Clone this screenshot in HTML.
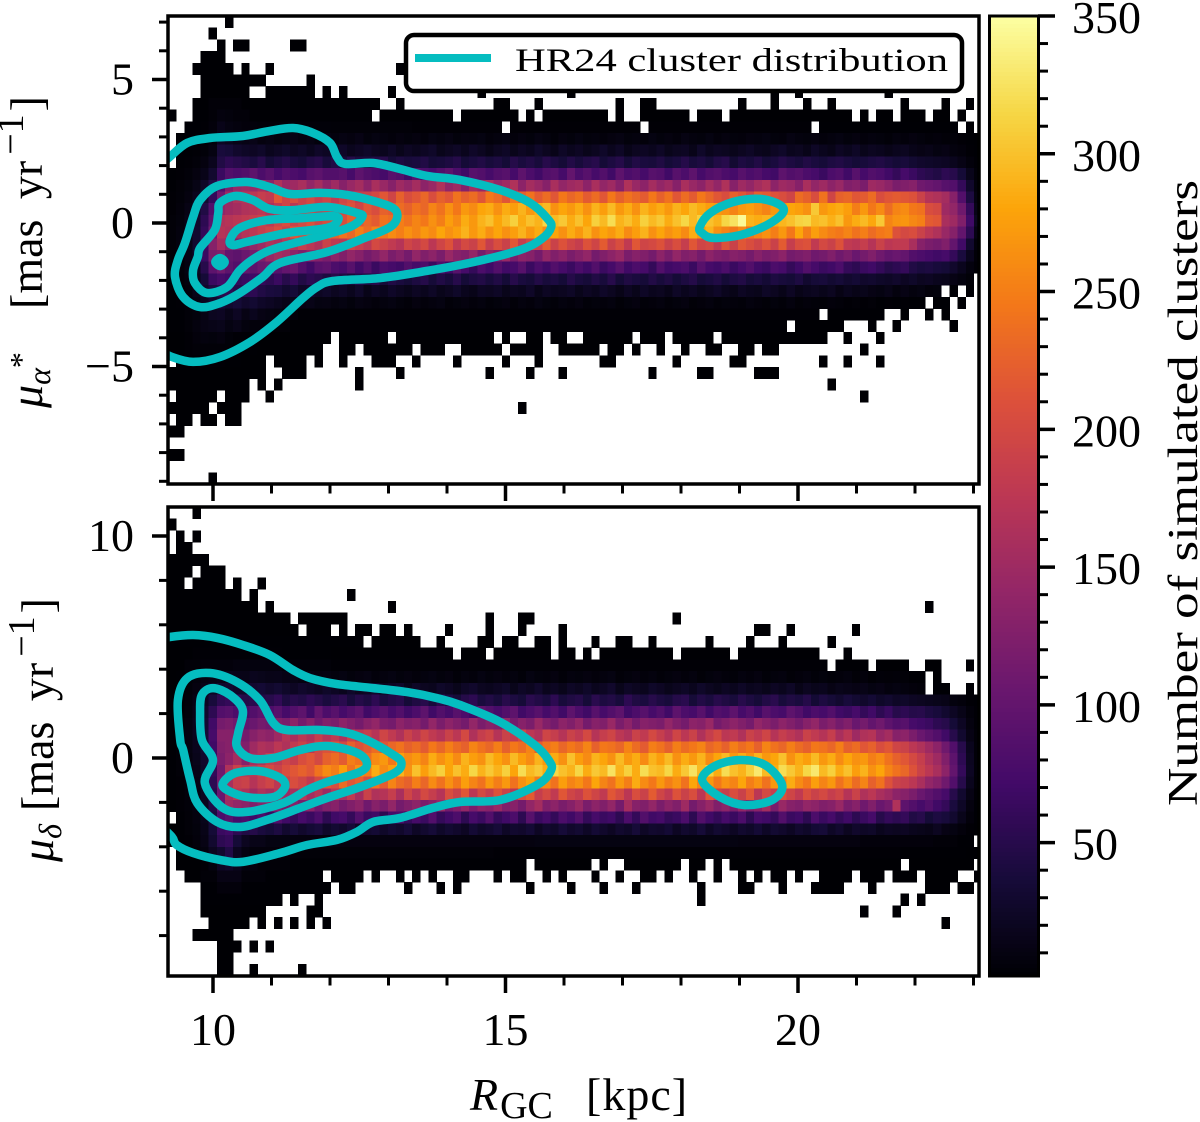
<!DOCTYPE html>
<html>
<head>
<meta charset="utf-8">
<title>Simulated cluster proper motions</title>
<style>
html,body{margin:0;padding:0;background:#fff;}
svg{display:block;}
text{font-family:"Liberation Serif","DejaVu Serif",serif;fill:#000;}
</style>
</head>
<body>
<svg id="chart" xmlns="http://www.w3.org/2000/svg" width="1200" height="1122" viewBox="0 0 1200 1122">
<defs>
<clipPath id="clip-top"><rect x="168" y="16" width="811" height="468"/></clipPath>
<clipPath id="clip-bot"><rect x="168" y="507" width="811" height="469"/></clipPath>
</defs>
<g id="heat-top" clip-path="url(#clip-top)" shape-rendering="crispEdges"></g>
<g id="heat-bot" clip-path="url(#clip-bot)" shape-rendering="crispEdges"></g>
<g id="contour-top" clip-path="url(#clip-top)"></g>
<g id="contour-bot" clip-path="url(#clip-bot)"></g>
<rect x="168" y="16" width="811" height="468" fill="none" stroke="#000" stroke-width="3.5"/>
<rect x="168" y="507" width="811" height="469" fill="none" stroke="#000" stroke-width="3.5"/>
<g id="ticks"></g>
<g id="colorbar" shape-rendering="crispEdges"></g>
<rect x="989.5" y="16" width="49" height="960" fill="none" stroke="#000" stroke-width="3"/>
<g id="labels" font-size="46"></g>
<g>
<rect x="406" y="35" width="556" height="56" rx="8" ry="8" fill="#fff" stroke="#000" stroke-width="4.5"/>
<line x1="415" y1="58" x2="491" y2="58" stroke="#05bdc0" stroke-width="8"/>
<text x="515" y="71" font-size="33" textLength="433" lengthAdjust="spacingAndGlyphs">HR24 cluster distribution</text>
</g>
<text transform="translate(42,408) rotate(-90)" font-size="46"><tspan font-style="italic">μ</tspan><tspan font-size="32" font-style="italic" dy="8">α</tspan><tspan font-size="32" dy="-18">*</tspan></text>
<text transform="translate(42,309) rotate(-90)" font-size="46">[mas <tspan dx="9">yr</tspan><tspan font-size="38" dx="6" dy="-19">−1</tspan><tspan dx="3" dy="19">]</tspan></text>
<text transform="translate(53,862) rotate(-90)" font-size="46"><tspan font-style="italic">μ</tspan><tspan font-size="32" font-style="italic" dy="8">δ</tspan></text>
<text transform="translate(53,811) rotate(-90)" font-size="46">[mas <tspan dx="9">yr</tspan><tspan font-size="38" dx="6" dy="-19">−1</tspan><tspan dx="3" dy="19">]</tspan></text>
<text x="470" y="1110" font-size="46"><tspan font-style="italic">R</tspan><tspan font-size="38" dy="8" dx="2">GC</tspan></text>
<text x="586" y="1110" font-size="46" letter-spacing="1">[kpc]</text>
<text transform="translate(1197,806) rotate(-90)" font-size="42" textLength="626" lengthAdjust="spacingAndGlyphs">Number of simulated clusters</text>
</svg>
<script>
// ---- axis extents (data units) ----
const xDomain = [9.2308, 23.094];
const yTopDomain = [7.2125, -9.094];
const yBotDomain = [11.306, -9.82];
const cbarDomain = [1.6, 350];
const xBinWidth = 0.13915;
const yTopBinHeight = 0.40767;
const yBotBinHeight = 0.5279;

// ---- tick values ----
const xMajorTicks = [10, 15, 20];
const xMinorTicks = [11, 12, 13, 14, 16, 17, 18, 19, 21, 22, 23];
const yTopMajorTicks = [5, 0, -5];
const yTopMinorTicks = [7, 6, 4, 3, 2, 1, -1, -2, -3, -4, -6, -7, -8, -9];
const yBotMajorTicks = [10, 0];
const yBotMinorTicks = [8, 6, 4, 2, -2, -4, -6, -8];
const cbarMajorTicks = [350, 300, 250, 200, 150, 100, 50];
const cbarMinorTicks = [340,330,320,310,290,280,270,260,240,230,220,210,190,180,170,160,140,130,120,110,90,80,70,60,40,30,20,10];

// ---- colormap stops (inferno) ----
const infernoStops = ['#000004','#160b39','#420a68','#6a176e','#932667','#bc3754','#dd513a','#f37819','#fca50a','#f6d746','#fcffa4'];

// ---- top panel counts: rows 0-9 as [value,run,...] ----
const topUpperRuns = [
[0,7,1,1,0,92],
[0,5,1,1,0,94],
[0,6,1,1,0,1,1,2,0,5,1,2,0,83],
[0,4,1,3,0,93],
[0,3,1,5,0,1,1,1,0,2,1,1,0,15,1,1,0,71],
[0,4,1,8,0,5,1,1,0,82],
[0,4,1,6,0,2,1,6,0,1,1,1,0,1,1,1,0,5,1,1,0,10,1,1,0,10,1,1,0,24,1,1,0,2,1,1,0,10,1,1,0,11],
[0,3,1,2,4,4,1,17,0,2,1,1,0,11,1,2,0,3,1,1,0,9,1,1,0,2,1,2,0,10,1,1,0,3,1,1,0,3,1,1,0,2,1,1,0,8,1,1,0,4,1,1,0,2,1,1,0,1],
[2,1,0,2,2,2,4,1,8,1,7,1,5,2,2,15,0,1,1,9,0,1,1,7,0,1,1,1,0,1,1,8,0,1,1,1,0,2,1,6,0,1,1,3,0,1,1,15,0,1,1,1,0,1,1,2,0,1,1,3,0,1,1,2,0,1,1,1,0,2],
[0,2,2,2,3,1,6,1,15,1,10,1,8,1,6,2,5,9,4,10,3,11,0,1,3,16,0,1,3,20,0,1,2,17,0,1,1,1,0,1]
];

// ---- top panel counts: rows 10-24, one value per bin ----
const topCoreRows = [
[0,1,2,2,3,6,22,18,14,12,14,9,11,8,10,12,9,11,7,10,8,11,9,12,7,10,8,6,9,7,9,6,10,8,11,7,9,8,10,6,8,10,6,9,7,11,8,5,9,7,10,7,8,6,9,11,7,8,6,10,7,9,6,11,8,7,10,6,9,7,6,9,8,10,7,6,11,8,7,9,6,8,10,7,9,6,8,7,5,8,6,9,7,5,6,4,5,3,2,1],
[0,2,2,3,5,10,38,35,28,24,22,26,18,22,26,20,24,18,25,22,20,25,18,22,26,20,18,24,16,22,18,22,26,16,20,24,18,25,20,14,20,24,16,22,18,26,20,15,24,18,22,16,20,26,18,24,15,20,22,18,24,16,20,22,15,26,18,22,20,16,20,24,18,16,22,26,18,20,15,24,18,14,22,18,24,16,20,18,14,18,20,15,12,14,10,12,8,6,3,2],
[0,2,3,5,9,18,45,55,50,45,40,50,35,42,48,40,35,45,50,38,45,35,48,40,38,45,50,35,42,38,40,45,35,38,42,48,35,40,45,38,42,35,48,40,45,38,50,42,35,46,38,45,50,35,42,48,36,45,40,38,44,35,40,48,38,42,35,45,50,32,42,38,45,35,40,48,42,38,45,40,36,42,45,40,35,38,42,45,40,35,38,32,28,26,24,22,18,12,6,3],
[2,3,5,9,15,30,65,85,80,85,95,80,90,75,85,80,75,90,95,85,85,90,75,95,85,80,75,90,85,70,90,80,75,85,95,80,70,90,85,75,85,90,75,95,80,70,85,90,75,100,80,90,75,85,70,95,80,85,75,90,85,70,90,80,95,75,85,90,80,75,90,80,85,75,70,95,85,90,80,75,65,80,85,70,90,75,85,80,70,60,75,65,55,50,45,55,50,35,16,5],
[2,4,7,13,25,45,85,125,145,150,145,155,135,165,145,150,160,140,155,135,150,130,145,155,135,160,145,130,150,140,155,135,145,165,140,150,130,155,145,160,140,150,165,135,155,145,130,160,140,150,155,135,160,140,150,130,165,145,135,155,140,150,130,160,145,135,155,140,165,130,150,140,155,165,135,150,145,130,160,140,150,135,145,125,130,120,150,145,135,120,125,130,110,105,100,90,85,60,28,7],
[3,5,9,18,32,60,110,150,165,170,175,185,180,215,195,205,190,200,185,195,180,195,205,185,190,200,215,195,225,205,215,230,205,225,215,240,225,235,215,245,235,215,245,225,240,220,235,215,245,230,240,220,235,215,245,225,240,230,220,245,225,240,215,235,220,245,230,215,205,225,215,200,225,220,210,205,195,235,225,205,240,195,225,230,215,220,235,205,215,220,215,210,190,170,165,155,130,85,42,10],
[3,6,12,25,45,85,140,150,155,165,170,175,165,180,195,175,190,200,185,195,190,200,210,195,215,205,225,220,235,225,240,230,255,240,265,245,270,260,280,285,265,285,275,290,270,285,295,265,280,270,285,265,290,275,295,270,285,265,290,275,285,270,290,280,295,285,275,270,265,255,270,275,265,255,270,260,280,275,265,305,270,280,285,275,250,270,245,260,235,255,260,245,240,205,200,150,140,110,60,14],
[4,7,14,28,55,95,165,170,175,180,185,190,178,195,205,190,200,210,195,205,215,205,225,215,230,220,240,235,250,240,255,245,265,250,275,260,285,270,290,300,280,295,310,285,300,290,315,295,305,285,300,280,310,295,320,290,300,285,310,295,305,285,300,315,295,310,300,290,315,325,345,290,285,290,285,292,300,312,315,295,300,288,300,270,285,295,282,305,255,265,268,258,252,220,215,160,150,125,70,20],
[4,8,16,30,60,110,170,165,160,170,175,185,195,205,190,215,205,225,215,235,225,240,230,250,235,255,245,260,250,265,255,270,260,280,265,275,290,270,285,265,280,265,275,290,270,285,260,280,265,285,270,290,265,280,270,285,260,275,290,265,280,265,275,260,285,270,290,265,255,245,260,240,255,265,250,270,245,280,250,275,260,250,245,255,240,250,235,245,250,210,200,205,190,175,165,145,130,100,55,12],
[4,8,14,30,70,130,155,135,125,130,140,150,165,160,175,170,185,175,165,190,180,175,195,185,175,200,190,180,170,195,185,200,175,195,210,180,200,190,215,185,205,190,215,185,200,195,220,190,210,195,185,210,195,220,190,205,180,215,195,200,210,190,205,185,215,195,200,180,210,190,215,205,195,210,190,220,185,205,210,180,200,190,210,180,175,185,170,190,175,180,180,160,130,120,115,125,100,70,30,6],
[3,6,12,25,65,120,125,100,95,105,115,125,145,155,150,135,125,140,130,120,135,125,140,130,115,125,140,120,130,115,140,125,135,120,145,130,125,140,115,135,125,145,120,135,130,115,140,125,135,120,130,140,115,125,135,145,120,130,125,115,135,120,140,125,130,115,135,125,120,130,125,115,130,120,125,135,115,120,125,110,115,125,110,120,105,115,125,110,100,105,100,85,80,75,70,75,60,40,18,4],
[3,5,10,20,50,95,110,95,85,100,95,105,110,90,100,105,85,70,90,95,80,75,90,70,85,65,80,75,70,85,75,80,65,85,70,90,75,60,80,70,85,70,75,90,65,80,70,85,75,65,80,70,85,65,75,90,70,80,75,60,85,70,75,80,65,90,75,70,80,65,75,85,70,65,80,75,60,70,85,75,65,70,80,60,55,65,70,60,50,55,60,45,40,42,38,35,28,18,8,3],
[3,4,8,16,35,65,75,70,60,65,70,60,55,65,50,60,45,55,50,42,50,45,38,48,42,50,36,45,40,35,42,48,36,45,38,50,35,42,46,38,45,35,50,40,36,46,38,42,35,48,40,36,45,38,50,35,44,40,36,46,38,44,35,42,48,36,40,45,35,42,46,36,40,34,42,38,35,42,30,36,38,32,36,30,34,28,30,26,24,28,22,26,20,22,18,16,12,8,4,0],
[2,3,6,14,28,42,50,55,48,52,55,45,40,38,30,35,25,28,22,26,20,24,18,26,15,22,18,25,20,16,22,18,24,16,20,26,18,15,22,20,24,16,20,18,25,15,22,18,20,24,16,22,18,25,20,14,22,16,24,18,20,15,24,18,22,16,20,25,18,14,22,18,16,24,20,15,22,14,18,20,16,20,12,18,14,16,12,10,14,8,12,8,10,6,7,0,3,0,2,0],
[2,3,5,10,18,28,35,30,35,28,32,25,22,18,14,16,12,14,10,11,8,10,7,11,9,6,8,10,7,5,9,6,8,10,5,7,9,6,8,5,7,9,5,8,6,10,7,5,8,6,9,5,7,6,8,4,7,9,5,6,8,5,7,9,4,6,8,5,7,6,5,8,6,4,7,5,8,4,6,5,4,6,5,3,4,3,4,2,3,2,3,2,2,0,2,2,0,1,0,0]
];

// ---- top panel counts: rows 25-39 as [value,run,...] ----
const topLowerRuns = [
[2,2,4,1,7,1,12,1,20,1,22,1,15,1,22,1,12,1,18,1,12,1,10,1,8,1,6,2,3,64,0,1,2,7,0,2,1,1,0,2,1,1,0,1,1,1,0,4],
[2,2,4,1,8,1,12,1,14,1,16,1,10,1,14,1,8,1,6,2,4,3,2,61,0,1,1,6,0,3,1,1,0,2,1,1,0,6,1,1,0,3],
[1,2,3,1,6,1,8,1,7,1,9,1,5,1,3,3,1,9,0,1,1,6,0,1,1,12,0,1,1,1,0,2,1,2,0,1,1,2,0,2,1,6,0,1,1,3,0,1,1,5,0,1,1,13,0,2,1,1,0,3,1,1,0,12],
[1,2,3,1,4,5,2,3,1,8,0,2,1,2,0,1,1,6,0,1,1,3,0,2,1,5,0,1,1,4,0,2,1,5,0,1,1,2,0,1,1,1,0,2,1,1,0,2,1,1,0,2,1,2,0,2,1,2,0,1,1,2,0,10,1,1,0,14],
[0,1,2,3,3,3,2,2,1,3,0,1,1,4,0,1,1,1,0,2,1,1,0,3,1,3,0,2,1,1,0,4,1,1,0,5,1,1,0,3,1,1,0,7,1,2,0,7,1,1,0,6,1,2,0,9,1,1,0,2,1,1,0,3,1,1,0,12],
[1,12,0,2,1,3,0,6,1,1,0,4,1,1,0,10,1,1,0,4,1,1,0,3,1,1,0,10,1,1,0,5,1,2,0,5,1,3,0,25],
[1,10,0,1,1,1,0,1,1,1,0,9,1,1,0,57,1,1,0,18],
[0,1,1,5,0,1,1,3,0,2,1,1,0,72,1,1,0,14],
[1,5,0,1,1,3,0,34,1,1,0,56],
[0,1,1,2,0,1,1,2,0,1,1,2,0,91],
[1,2,0,98],
[0,100],
[1,2,0,98],
[0,100],
[0,5,1,1,0,94]
];

// ---- bottom panel counts: rows 0-13 as [value,run,...] ----
const botUpperRuns = [
[0,3,1,1,0,96],
[1,1,0,99],
[0,1,1,1,0,1,1,1,0,96],
[0,1,1,2,0,97],
[1,5,0,95],
[1,3,0,1,1,3,0,93],
[1,2,0,1,1,4,0,1,1,1,0,2,1,1,0,88],
[1,9,0,1,1,1,0,11,1,1,0,77],
[1,11,0,1,1,1,0,14,1,1,0,65,1,1,0,6],
[1,15,0,1,1,6,0,17,1,1,0,3,1,2,0,17,1,1,0,37],
[1,16,0,1,1,3,0,1,1,1,0,1,1,2,0,1,1,2,0,1,1,1,0,4,1,1,0,4,1,1,0,3,1,1,0,4,1,1,0,23,1,2,0,2,1,1,0,7,1,1,0,15],
[2,24,0,1,1,6,0,2,1,1,0,4,1,2,0,1,1,2,0,2,1,2,0,1,1,1,0,3,1,1,0,2,1,2,0,2,1,1,0,6,1,1,0,4,1,1,0,3,1,1,0,5,1,1,0,18],
[1,3,3,11,2,6,1,15,0,1,1,3,0,1,1,7,0,1,1,2,0,1,1,1,0,1,1,9,0,1,1,6,0,1,1,10,0,3,1,1,0,16],
[1,2,4,2,6,4,8,6,5,6,3,30,3,31,0,1,2,4,0,1,1,4,0,2,1,2,0,3,1,1,0,1]
];

// ---- bottom panel counts: rows 14-27, one value per bin ----
const botCoreRows = [
[1,2,4,7,10,12,14,16,15,14,18,16,14,15,12,13,10,11,9,10,8,10,7,9,11,6,8,10,7,9,6,8,10,7,9,5,8,6,10,7,9,6,8,5,10,7,6,9,5,8,7,9,6,8,10,5,7,9,6,8,5,7,9,6,8,4,7,9,6,5,8,6,9,5,7,8,4,6,8,5,7,5,6,8,4,6,3,5,4,5,4,2,2,0,1,0,0,0,0,0],
[1,2,5,9,15,22,28,30,26,28,30,34,28,32,26,22,28,24,20,26,22,18,26,20,24,28,18,22,26,16,24,20,18,26,22,16,24,28,20,18,22,26,16,24,20,28,18,22,16,24,20,26,18,22,28,16,24,20,18,26,22,16,20,24,18,26,20,16,22,18,24,18,20,16,22,18,24,14,20,16,18,12,16,14,12,14,10,12,8,10,8,6,5,0,2,2,0,0,1,0],
[1,3,6,12,22,38,55,60,55,48,52,45,50,58,42,50,45,55,48,40,46,52,38,48,42,55,40,46,50,36,44,50,38,52,42,36,48,55,40,46,38,50,42,36,52,46,40,55,38,44,48,36,52,42,46,38,55,44,40,50,42,38,48,52,36,46,40,50,44,38,50,42,36,46,52,38,44,40,48,34,42,36,30,38,32,28,34,26,30,24,26,22,20,18,16,14,8,6,3,2],
[1,3,7,14,28,55,85,90,80,75,85,95,80,90,75,85,95,70,100,80,90,75,85,95,70,80,90,75,85,70,80,95,70,85,75,90,80,70,95,85,75,85,95,70,80,90,75,85,70,95,80,70,90,75,85,95,70,80,90,75,85,70,95,80,75,90,70,85,80,95,75,85,70,90,80,75,95,85,70,80,75,85,70,65,75,60,70,55,65,50,55,48,50,42,38,30,22,14,6,3],
[2,4,9,16,32,70,115,120,110,100,105,115,110,125,120,135,115,130,110,125,120,135,125,115,130,140,120,115,135,125,130,115,140,120,135,125,115,140,120,130,125,140,115,130,120,145,125,115,135,125,140,115,130,125,145,120,135,115,130,125,120,140,125,115,135,130,145,115,125,135,125,115,140,130,120,135,125,115,130,140,120,130,115,125,105,115,100,110,95,85,90,75,70,65,55,50,35,22,9,3],
[2,4,10,18,35,75,130,130,125,115,130,140,135,150,170,160,175,165,185,170,180,165,190,175,185,170,195,180,165,190,175,195,180,170,190,175,200,165,185,195,170,190,180,200,175,165,195,185,170,190,180,200,170,185,195,175,165,190,180,200,185,170,195,175,190,165,185,200,175,180,165,190,180,195,170,185,175,165,190,180,170,185,160,175,150,165,170,145,155,130,135,120,105,95,85,70,50,30,12,4],
[2,4,10,18,30,70,125,130,140,125,150,165,160,175,165,180,190,175,200,210,215,200,225,210,220,235,215,230,240,225,235,220,245,230,250,235,225,255,240,230,250,225,245,235,255,220,240,250,230,245,235,255,225,245,240,230,255,235,220,250,240,225,250,235,245,255,230,240,225,250,235,245,225,255,240,230,250,235,225,245,240,230,250,225,235,215,225,205,215,195,190,175,165,150,135,110,85,50,18,5],
[2,4,9,16,28,65,120,135,155,130,155,165,185,180,195,185,205,215,200,225,235,220,250,240,235,260,270,245,275,260,270,255,285,265,280,260,290,275,265,295,280,265,295,275,260,290,270,285,265,300,275,260,290,280,265,295,270,285,260,290,275,295,265,285,270,290,260,280,295,270,285,265,290,270,280,300,265,285,275,295,270,285,260,280,265,270,250,260,240,225,215,200,185,165,150,125,95,55,20,5],
[2,4,8,14,26,60,110,165,190,170,175,190,200,190,205,215,225,215,240,260,250,275,240,265,250,285,260,275,290,265,300,275,295,310,280,300,285,315,290,305,290,310,280,320,295,305,285,315,300,290,315,285,305,295,325,290,310,285,320,300,295,315,285,305,325,295,310,285,320,300,290,310,330,295,285,320,305,290,315,330,295,310,285,300,275,290,265,280,255,240,230,210,190,175,160,135,100,60,22,5],
[2,3,7,12,24,55,115,160,185,190,170,185,195,175,190,205,195,180,200,215,205,235,215,225,205,240,220,255,235,225,250,230,260,240,265,245,275,255,240,270,250,270,240,265,280,250,260,240,275,255,265,245,280,255,240,270,250,285,260,245,270,250,265,240,280,255,270,245,265,255,280,250,265,240,270,255,285,260,245,275,255,270,240,260,235,255,225,240,210,190,185,175,160,140,130,110,85,50,18,4],
[2,3,6,10,20,50,105,160,175,165,150,165,155,170,150,160,175,155,170,150,175,160,180,155,190,165,170,185,160,195,175,200,185,170,205,190,215,175,200,185,210,190,175,205,220,185,200,180,215,195,185,210,195,180,215,200,175,205,190,220,195,180,210,190,205,175,215,195,185,205,190,215,175,200,185,210,195,180,205,190,200,185,195,170,190,165,175,160,150,135,130,120,105,95,85,75,50,30,12,3],
[1,3,5,9,18,45,100,150,140,135,125,135,140,125,115,130,120,135,110,125,130,115,125,135,110,130,120,140,115,125,135,120,130,145,115,125,140,120,135,130,145,125,130,115,140,155,125,135,120,130,145,120,135,125,140,115,155,130,125,140,120,135,125,150,115,130,145,125,135,120,140,125,135,155,120,145,130,125,140,135,125,130,145,120,130,110,125,105,115,165,95,85,75,85,70,60,40,24,9,2],
[0,2,4,8,16,40,80,90,75,80,70,80,65,85,70,60,75,65,80,55,70,75,60,85,65,70,55,75,80,60,75,65,85,60,70,80,55,75,65,85,60,70,80,55,90,65,75,60,80,70,85,60,75,65,70,55,80,60,85,70,75,60,65,80,55,85,70,60,75,65,80,55,75,70,60,85,65,70,55,80,65,75,60,70,55,65,75,50,60,55,60,45,50,35,42,38,30,16,6,2],
[1,2,4,7,14,35,65,70,55,45,48,40,35,42,30,36,28,34,38,26,32,28,36,24,30,34,26,32,28,36,24,30,36,26,32,28,22,34,26,30,36,24,30,28,34,22,30,26,36,28,32,24,34,28,22,30,26,36,24,30,28,34,22,30,26,36,24,32,28,22,30,26,34,24,32,28,22,30,26,34,36,24,30,20,28,24,26,18,22,20,22,18,16,14,20,12,10,6,3,1]
];

// ---- bottom panel counts: rows 28-39 as [value,run,...] ----
const botLowerRuns = [
[1,1,2,1,3,1,6,1,12,1,30,1,55,1,60,1,35,1,20,1,14,2,10,3,9,30,10,25,9,15,6,9,4,3,2,2,0,1],
[0,1,1,1,2,1,4,1,8,1,20,1,30,1,45,1,20,1,10,1,6,5,4,25,3,30,3,20,2,8,1,2],
[0,1,1,3,3,1,8,1,22,1,25,1,18,1,8,2,4,4,2,29,0,1,1,7,0,1,1,1,0,2,1,7,0,1,1,2,0,1,1,1,0,1,1,21,0,1,1,8,0,1],
[0,2,1,2,4,2,12,3,5,3,2,7,0,1,1,4,0,1,1,1,0,2,1,1,0,1,1,1,0,1,1,1,0,2,1,2,0,3,1,1,0,1,1,2,0,2,1,1,0,1,1,1,0,3,1,1,0,2,1,1,0,2,1,2,0,1,1,1,0,2,1,1,0,2,1,1,0,2,1,1,0,1,1,1,0,1,1,2,0,1,1,1,0,2,1,4,0,1,1,3,0,1,1,3,0,1,1,4,0,2,1,1],
[0,4,2,2,6,3,2,11,0,1,1,2,0,6,1,1,0,3,1,1,0,1,1,1,0,8,1,1,0,4,1,1,0,3,1,1,0,3,1,1,0,7,1,1,0,4,1,2,0,3,1,1,0,3,1,4,0,3,1,1,0,6,1,3,0,1,1,2,0,1],
[0,4,2,10,0,1,1,1,0,2,1,1,0,46,1,1,0,24,1,1,0,1,1,1,0,7],
[0,4,1,8,0,5,1,2,0,66,1,1,0,3,1,1,0,10],
[0,5,1,5,0,1,1,1,0,1,1,1,0,1,1,1,0,1,1,1,0,1,1,1,0,75,1,1,0,4],
[0,3,1,5,0,92],
[0,6,1,3,0,1,1,1,0,1,1,1,0,87],
[0,6,1,2,0,92],
[0,6,1,2,0,2,1,1,0,5,1,1,0,83]
];

// ---- contour lines: RGC in kpc, proper motion in mas/yr ----
const topOuterX = [9.09,9.26,9.56,9.95,10.51,10.97,11.37,11.71,12.00,12.12,12.26,12.74,13.20,13.66,14.22,14.91,15.42,15.72,15.78,15.62,15.25,14.39,13.54,12.85,12.05,11.78,11.54,11.09,10.63,10.12,9.66,9.30,9.09];
const topOuterY = [1.99,2.30,2.79,2.96,3.03,3.21,3.31,3.14,2.79,2.30,2.06,2.09,1.88,1.64,1.50,1.15,0.70,0.15,-0.15,-0.55,-0.94,-1.39,-1.71,-1.92,-2.02,-2.23,-2.61,-3.45,-4.15,-4.67,-4.84,-4.67,-4.43];
const topRing2X = [9.66,9.78,10.07,10.58,10.97,11.32,11.83,12.29,12.74,13.08,13.15,13.03,12.63,11.95,11.15,10.85,10.46,10.12,9.78,9.49,9.35,9.40,9.52];
const topRing2Y = [0.21,0.80,1.29,1.43,1.25,1.01,1.05,0.98,0.77,0.52,0.21,-0.14,-0.49,-1.01,-1.39,-1.88,-2.44,-2.79,-2.93,-2.58,-1.88,-1.29,-0.70];
const topRing3X = [10.09,10.12,10.38,10.68,10.97,11.37,11.95,12.46,12.55,12.34,11.78,11.09,10.75,10.46,10.24,9.90,9.69,9.66,9.74,9.78,10.03];
const topRing3Y = [0.35,0.70,0.94,0.80,0.49,0.45,0.56,0.35,0.21,-0.14,-0.49,-0.87,-1.18,-1.64,-2.23,-2.44,-2.09,-1.64,-1.18,-0.87,-0.24];
const topRing4X = [10.29,10.46,10.92,11.54,12.05,12.14,11.95,11.26,10.58,10.34];
const topRing4Y = [-0.59,-0.17,0.10,0.17,0.24,0.10,-0.17,-0.35,-0.66,-0.77];
const topPeakX = [10.12,10.20,10.12,10.04];
const topPeakY = [-1.22,-1.36,-1.50,-1.36];
const topBlobX = [18.32,18.50,18.89,19.35,19.69,19.74,19.47,19.01,18.55,18.36];
const topBlobY = [-0.14,0.35,0.73,0.84,0.63,0.35,-0.07,-0.42,-0.52,-0.35];
const botOuterX = [9.09,9.26,9.66,10.07,10.51,10.97,11.37,11.66,12.12,12.74,13.32,13.83,14.22,14.91,15.50,15.74,15.78,15.55,14.91,14.22,13.76,13.20,12.74,12.46,12.12,11.61,11.15,10.51,10.12,9.66,9.38,9.30,9.09];
const botOuterY = [5.32,5.45,5.54,5.41,5.09,4.64,3.96,3.60,3.33,3.15,2.97,2.70,2.39,1.62,0.59,-0.10,-0.55,-1.20,-1.89,-1.98,-2.25,-2.70,-2.88,-3.33,-3.69,-3.92,-4.28,-4.68,-4.59,-4.28,-3.92,-3.56,-3.02];
const botRing2X = [9.44,9.40,9.56,9.95,10.41,10.80,11.03,11.26,11.83,12.29,12.63,13.05,13.22,13.10,12.51,11.95,11.49,10.92,10.46,10.07,9.73,9.61,9.49];
const botRing2Y = [0.81,2.61,3.60,3.83,3.42,2.61,1.58,1.26,1.26,1.13,0.81,0.20,-0.20,-0.68,-1.31,-1.80,-2.25,-2.79,-3.11,-2.88,-2.03,-0.99,0.36];
const botRing3X = [9.81,9.78,9.81,10.00,10.29,10.51,10.43,10.41,10.63,11.03,11.49,11.95,12.46,12.63,12.51,11.95,11.61,11.20,10.58,10.17,9.86,10.00];
const botRing3Y = [0.81,2.03,2.84,3.15,2.84,2.16,1.13,0.50,0,0,0.36,0.54,0.23,-0.23,-0.63,-1.08,-1.44,-2.03,-2.43,-2.25,-1.13,-0.09];
const botRing4X = [10.17,10.38,10.80,11.15,11.23,11.03,10.58,10.24];
const botRing4Y = [-1.13,-0.68,-0.59,-0.90,-1.31,-1.76,-1.76,-1.44];
const botBlobX = [18.36,18.58,19.01,19.44,19.73,19.56,19.09,18.67];
const botBlobY = [-0.99,-0.36,-0.09,-0.32,-1.22,-1.89,-2.12,-1.76];

// ---- axis functions ----
function linear(domain, range) {
  return function (v) {
    return range[0] + (v - domain[0]) * (range[1] - range[0]) / (domain[1] - domain[0]);
  };
}
const xScale = linear(xDomain, [168, 979]);
const yTop = linear(yTopDomain, [16, 484]);
const yBot = linear(yBotDomain, [507, 976]);
const cbarScale = linear([350, 1.6], [16, 976]);

const NS = 'http://www.w3.org/2000/svg';
function make(tag, parent, attrs) {
  const el = document.createElementNS(NS, tag);
  for (const k in attrs) el.setAttribute(k, attrs[k]);
  parent.appendChild(el);
  return el;
}
function hexToRgb(h) {
  return [parseInt(h.slice(1, 3), 16), parseInt(h.slice(3, 5), 16), parseInt(h.slice(5, 7), 16)];
}
function inferno(v) {
  let t = (v - cbarDomain[0]) / (cbarDomain[1] - cbarDomain[0]);
  t = Math.max(0, Math.min(1, t));
  const p = t * (infernoStops.length - 1);
  const i = Math.min(Math.floor(p), infernoStops.length - 2);
  const a = hexToRgb(infernoStops[i]);
  const b = hexToRgb(infernoStops[i + 1]);
  const f = p - i;
  return 'rgb(' + Math.round(a[0] + (b[0] - a[0]) * f) + ',' + Math.round(a[1] + (b[1] - a[1]) * f) + ',' + Math.round(a[2] + (b[2] - a[2]) * f) + ')';
}
function expandRuns(runs) {
  const out = [];
  for (let i = 0; i + 1 < runs.length; i += 2) {
    for (let n = 0; n < runs[i + 1]; n++) out.push(runs[i]);
  }
  return out;
}

// ---- heatmaps ----
function drawHeat(groupId, rows, yScale, yStart, binH) {
  const g = document.getElementById(groupId);
  rows.forEach(function (row, r) {
    const y0 = yScale(yStart - r * binH);
    const y1 = yScale(yStart - (r + 1) * binH);
    row.forEach(function (v, c) {
      if (v <= 0) return;
      const x0 = xScale(xDomain[0] + c * xBinWidth);
      const x1 = xScale(xDomain[0] + (c + 1) * xBinWidth);
      const cell = make('rect', g, { x: x0.toFixed(2), y: y0.toFixed(2), width: (x1 - x0 + 0.3).toFixed(2), height: (y1 - y0 + 0.3).toFixed(2), fill: inferno(v) });
      
      
    });
  });
}
const topRows = topUpperRuns.map(expandRuns).concat(topCoreRows, topLowerRuns.map(expandRuns));
const botRows = botUpperRuns.map(expandRuns).concat(botCoreRows, botLowerRuns.map(expandRuns));
drawHeat('heat-top', topRows, yTop, yTopDomain[0], yTopBinHeight);
drawHeat('heat-bot', botRows, yBot, yBotDomain[0], yBotBinHeight);

// ---- contours ----
function smoothPath(px, py, closed) {
  const n = px.length;
  const at = function (i) {
    if (closed) return [px[(i + n) % n], py[(i + n) % n]];
    const j = Math.max(0, Math.min(n - 1, i));
    return [px[j], py[j]];
  };
  let d = 'M' + px[0].toFixed(1) + ' ' + py[0].toFixed(1);
  const segs = closed ? n : n - 1;
  for (let i = 0; i < segs; i++) {
    const p0 = at(i - 1), p1 = at(i), p2 = at(i + 1), p3 = at(i + 2);
    const c1x = p1[0] + (p2[0] - p0[0]) / 6, c1y = p1[1] + (p2[1] - p0[1]) / 6;
    const c2x = p2[0] - (p3[0] - p1[0]) / 6, c2y = p2[1] - (p3[1] - p1[1]) / 6;
    d += 'C' + c1x.toFixed(1) + ' ' + c1y.toFixed(1) + ' ' + c2x.toFixed(1) + ' ' + c2y.toFixed(1) + ' ' + p2[0].toFixed(1) + ' ' + p2[1].toFixed(1);
  }
  return closed ? d + 'Z' : d;
}
function drawContour(groupId, xs, ys, yScale, closed, filled) {
  const g = document.getElementById(groupId);
  const d = smoothPath(xs.map(xScale), ys.map(yScale), closed);
  const path = make('path', g, { d: d, fill: filled ? '#05bdc0' : 'none', stroke: '#05bdc0', 'stroke-width': 8.5, 'stroke-linejoin': 'round' });
  
  
}
drawContour('contour-top', topOuterX, topOuterY, yTop, false, false);
drawContour('contour-top', topRing2X, topRing2Y, yTop, true, false);
drawContour('contour-top', topRing3X, topRing3Y, yTop, true, false);
drawContour('contour-top', topRing4X, topRing4Y, yTop, true, false);
drawContour('contour-top', topPeakX, topPeakY, yTop, true, true);
drawContour('contour-top', topBlobX, topBlobY, yTop, true, false);
drawContour('contour-bot', botOuterX, botOuterY, yBot, false, false);
drawContour('contour-bot', botRing2X, botRing2Y, yBot, true, false);
drawContour('contour-bot', botRing3X, botRing3Y, yBot, true, false);
drawContour('contour-bot', botRing4X, botRing4Y, yBot, true, false);
drawContour('contour-bot', botBlobX, botBlobY, yBot, true, false);

// ---- ticks ----
const tickGroup = document.getElementById('ticks');
function tickLine(x1, y1, x2, y2, w, name) {
  const t = make('line', tickGroup, { x1: x1, y1: y1, x2: x2, y2: y2, stroke: '#000', 'stroke-width': w });
  
  
}
[484, 976].forEach(function (base) {
  xMajorTicks.forEach(function (v) { tickLine(xScale(v), base, xScale(v), base + 17, 3.5, 'x-major-tick'); });
  xMinorTicks.forEach(function (v) { tickLine(xScale(v), base, xScale(v), base + 9.5, 3, 'x-minor-tick'); });
});
yTopMajorTicks.forEach(function (v) { tickLine(152, yTop(v), 168, yTop(v), 3.5, 'y-major-tick'); });
yTopMinorTicks.forEach(function (v) { tickLine(159, yTop(v), 168, yTop(v), 3, 'y-minor-tick'); });
yBotMajorTicks.forEach(function (v) { tickLine(152, yBot(v), 168, yBot(v), 3.5, 'y-major-tick'); });
yBotMinorTicks.forEach(function (v) { tickLine(159, yBot(v), 168, yBot(v), 3, 'y-minor-tick'); });
cbarMajorTicks.forEach(function (v) { tickLine(1038, cbarScale(v), 1055, cbarScale(v), 3.5, 'colorbar-major-tick'); });
cbarMinorTicks.forEach(function (v) { tickLine(1038, cbarScale(v), 1048, cbarScale(v), 3, 'colorbar-minor-tick'); });

// ---- colorbar ramp ----
const cbarGroup = document.getElementById('colorbar');
for (let py = 16; py < 976; py += 4) {
  const v = 350 + (py + 2 - 16) * (cbarDomain[0] - 350) / 960;
  const swatch = make('rect', cbarGroup, { x: 990, y: py, width: 48, height: 4.3, fill: inferno(v) });
  
  
}

// ---- tick labels ----
const labelGroup = document.getElementById('labels');
function tickText(str, x, y, anchor, name) {
  const t = make('text', labelGroup, { x: x, y: y, 'text-anchor': anchor });
  t.textContent = str;
  
  
}
function fmt(v) { return v < 0 ? '\u2212' + Math.abs(v) : String(v); }
xMajorTicks.forEach(function (v) { tickText(fmt(v), xScale(v), 1045, 'middle', 'x-tick-label'); });
yTopMajorTicks.forEach(function (v) { tickText(fmt(v), 134, yTop(v) + 15, 'end', 'y-tick-label'); });
yBotMajorTicks.forEach(function (v) { tickText(fmt(v), 134, yBot(v) + 15, 'end', 'y-tick-label'); });
cbarMajorTicks.forEach(function (v) { tickText(fmt(v), 1072, cbarScale(v) + 17, 'start', 'colorbar-tick-label'); });
</script>
</body>
</html>
